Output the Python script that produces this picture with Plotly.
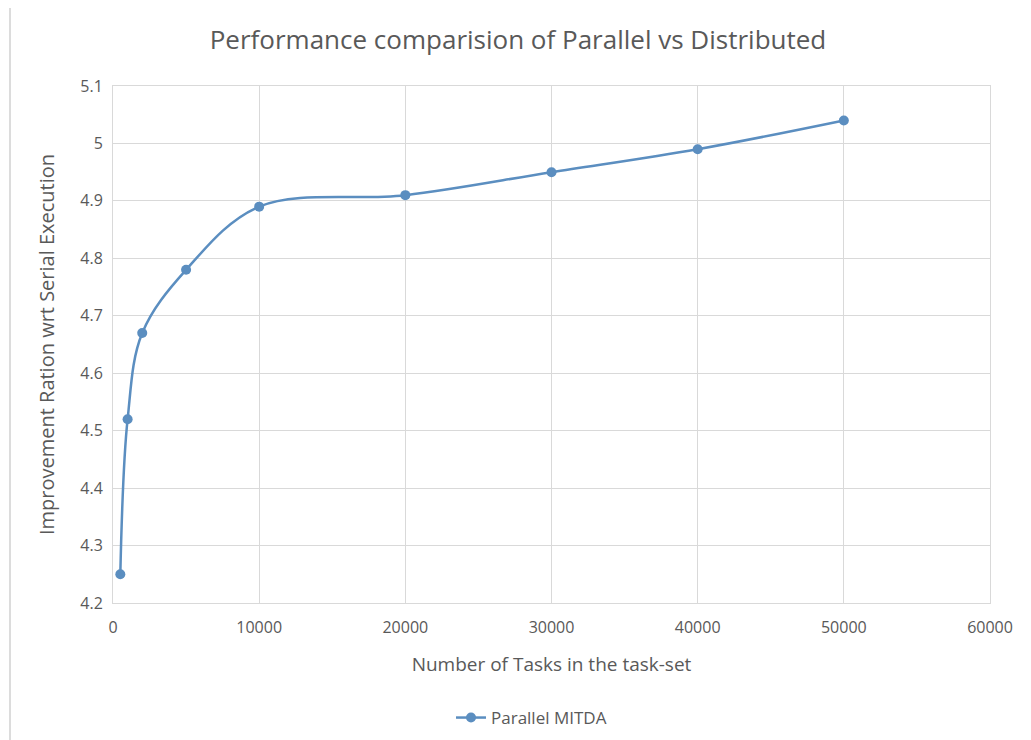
import plotly.graph_objects as go

tasks = [500, 1000, 2000, 5000, 10000, 20000, 30000, 40000, 50000]
ratio = [4.25, 4.52, 4.67, 4.78, 4.89, 4.91, 4.95, 4.99, 5.04]
series_name = "Parallel MITDA"
title = "Performance comparision of Parallel vs Distributed"
x_title = "Number of Tasks in the task-set"
y_title = "Improvement Ration wrt Serial Execution"
x_ticks = [0, 10000, 20000, 30000, 40000, 50000, 60000]
y_ticks = [4.2, 4.3, 4.4, 4.5, 4.6, 4.7, 4.8, 4.9, 5.0, 5.1]
y_ticktext = ["4.2", "4.3", "4.4", "4.5", "4.6", "4.7", "4.8", "4.9", "5", "5.1"]

FONT = "Open Sans"
GRAY = "#595959"
BLUE = "#5b8ec0"

# plot area: 877 x 517 px (page body has an 8px offset)
L, R, T, B = 105, 49, 78, 145
PW, PH = 1031 - L - R, 740 - T - B

fig = go.Figure()
fig.add_trace(go.Scatter(
    x=tasks, y=ratio, mode="lines+markers", name=series_name,
    line=dict(color=BLUE, width=2.5, shape="spline", smoothing=1.0),
    marker=dict(color=BLUE, size=10),
))

fig.update_layout(
    width=1031, height=740,
    margin=dict(l=L, r=R, t=T, b=B),
    paper_bgcolor="white", plot_bgcolor="white",
    title=dict(text=title, x=510 / 1031, xanchor="center",
               y=1 - 32 / 740, yanchor="middle",
               font=dict(family=FONT, size=26, color=GRAY)),
    font=dict(family=FONT, color=GRAY),
    showlegend=True,
    legend=dict(orientation="h", x=(500 - 8) / 1031, xanchor="center", xref="paper",
                y=-(718 - 8 - T - PH) / PH, yanchor="middle",
                font=dict(family=FONT, size=17, color=GRAY)),
    xaxis=dict(range=[0, 60000], tickvals=x_ticks,
               ticktext=[str(v) for v in x_ticks],
               showgrid=True, gridcolor="#d9d9d9", gridwidth=1,
               showline=True, linecolor="#d9d9d9", mirror=True,
               zeroline=False, ticks="", tickfont=dict(size=16, color=GRAY),
               ticklabelstandoff=10,
               automargin=False,
               title=dict(text=x_title, font=dict(size=19, color=GRAY), standoff=20)),
    yaxis=dict(range=[4.2, 5.1], tickvals=y_ticks, ticktext=y_ticktext,
               showgrid=True, gridcolor="#d9d9d9", gridwidth=1,
               showline=True, linecolor="#d9d9d9", mirror=True,
               zeroline=False, ticks="", tickfont=dict(size=16, color=GRAY),
               ticklabelstandoff=6,
               automargin=False,
               title=dict(text=y_title, font=dict(size=20, color=GRAY), standoff=20)),
)

# outer chart-area border lines
fig.add_shape(type="line", xref="paper", yref="paper",
              x0=-103 / PW, x1=-103 / PW, y0=-(B + 10) / PH, y1=(PH + 78) / PH,
              line=dict(color="#d0d0d0", width=1.5))
fig.add_shape(type="line", xref="paper", yref="paper",
              x0=(PW + 38) / PW, x1=(PW + 38) / PW, y0=-(B + 10) / PH, y1=(PH + 78) / PH,
              line=dict(color="#d0d0d0", width=1.5))

fig.write_html("out.html")
